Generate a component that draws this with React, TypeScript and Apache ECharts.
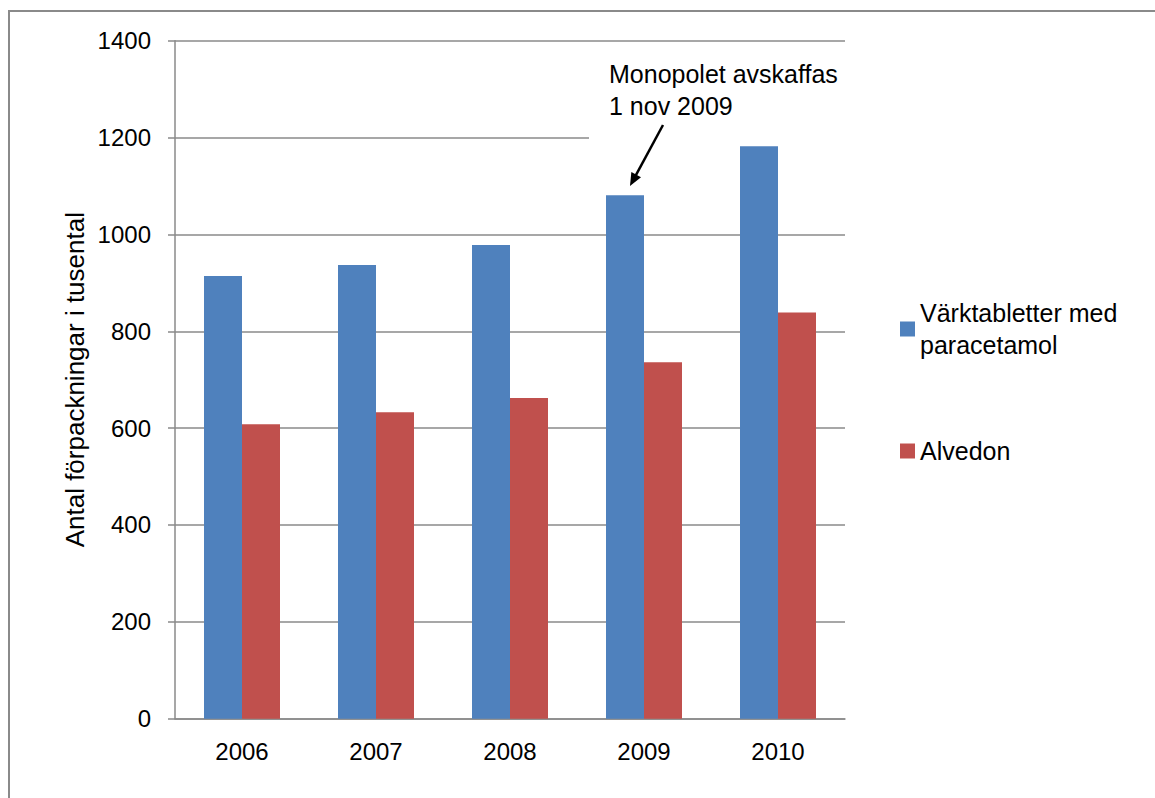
import React, { useEffect, useRef } from "react";
import * as echarts from "echarts";

const years = ["2006", "2007", "2008", "2009", "2010"];
const seriesNames = ["Värktabletter med paracetamol", "Alvedon"];
const paracetamolValues = [914, 937, 978, 1081, 1182];
const alvedonValues = [608, 633, 662, 736, 839];
const yMin = 0;
const yMax = 1400;
const yInterval = 200;
const yAxisTitle = "Antal förpackningar i tusental";
const annotationLines = ["Monopolet avskaffas", "1 nov 2009"];

const FONT = "'Liberation Sans', Arial, sans-serif";
const GRID_COLOR = "#8a8a8a";

export default function App() {
  const ref = useRef<HTMLDivElement>(null);

  useEffect(() => {
    if (!ref.current) return;
    const chart = echarts.init(ref.current, undefined, { renderer: "svg" });

    // arrow geometry
    const tail = [663, 125];
    const tip = [630, 186];
    const dx = tip[0] - tail[0];
    const dy = tip[1] - tail[1];
    const len = Math.sqrt(dx * dx + dy * dy);
    const ux = dx / len;
    const uy = dy / len;
    const nx = -uy;
    const ny = ux;
    const headLen = 13;
    const headHalf = 5.5;
    const bx = tip[0] - ux * headLen;
    const by = tip[1] - uy * headLen;

    chart.setOption({
      animation: false,
      backgroundColor: "#ffffff",
      textStyle: { fontFamily: FONT },
      grid: { left: 175, right: 310, top: 40.7, bottom: 79.3, containLabel: false },
      legend: {
        orient: "vertical",
        left: 900,
        top: 281,
        padding: 0,
        itemWidth: 15,
        itemHeight: 15,
        itemGap: 58,
        icon: "rect",
        selectedMode: false,
        formatter: (name: string) =>
          name === seriesNames[0] ? "Värktabletter med\nparacetamol" : name,
        textStyle: { fontFamily: FONT, fontSize: 25, color: "#000", lineHeight: 32 },
        data: [
          { name: seriesNames[0], textStyle: { padding: [32, 0, 0, 0] } },
          { name: seriesNames[1] },
        ],
      },
      xAxis: {
        type: "category",
        data: years,
        axisLine: { show: true, lineStyle: { color: GRID_COLOR, width: 1.5 } },
        axisTick: { show: false },
        axisLabel: { color: "#000", fontSize: 24, fontFamily: FONT, margin: 21 },
      },
      yAxis: {
        type: "value",
        min: yMin,
        max: yMax,
        interval: yInterval,
        name: yAxisTitle,
        nameLocation: "middle",
        nameGap: 87,
        nameMoveOverlap: false,
        nameTextStyle: { color: "#000", fontSize: 26, fontFamily: FONT },
        axisLine: { show: true, lineStyle: { color: GRID_COLOR, width: 1.5 } },
        axisTick: { show: true, length: 7, lineStyle: { color: GRID_COLOR, width: 1.5 } },
        axisLabel: {
          color: "#000",
          fontSize: 24,
          fontFamily: FONT,
          margin: 24,
          formatter: (v: number) => String(v),
        },
        splitLine: { show: true, lineStyle: { color: GRID_COLOR, width: 1.5 } },
      },
      series: [
        {
          name: seriesNames[0],
          type: "bar",
          data: paracetamolValues,
          barWidth: 38,
          barGap: "0%",
          itemStyle: { color: "#4F81BD" },
        },
        {
          name: seriesNames[1],
          type: "bar",
          data: alvedonValues,
          barWidth: 38,
          barGap: "0%",
          itemStyle: { color: "#C0504D" },
        },
      ],
      graphic: [
        {
          type: "rect",
          z: 100,
          silent: true,
          shape: { x: 9, y: 11, width: 1300, height: 1000 },
          style: { fill: "none", stroke: GRID_COLOR, lineWidth: 2 },
        },
        {
          type: "rect",
          z: 100,
          silent: true,
          shape: { x: 589, y: 52, width: 262, height: 88 },
          style: { fill: "#ffffff" },
        },
        {
          type: "text",
          z: 101,
          x: 609,
          y: 58,
          style: {
            text: annotationLines.join("\n"),
            fontFamily: FONT,
            fontSize: 25,
            lineHeight: 32,
            fill: "#000",
            verticalAlign: "top",
            align: "left",
          },
        },
        {
          type: "line",
          z: 101,
          shape: { x1: tail[0], y1: tail[1], x2: bx + ux * 2, y2: by + uy * 2 },
          style: { stroke: "#000", lineWidth: 2.5 },
        },
        {
          type: "polygon",
          z: 101,
          shape: {
            points: [
              [tip[0], tip[1]],
              [bx + nx * headHalf, by + ny * headHalf],
              [bx - nx * headHalf, by - ny * headHalf],
            ],
          },
          style: { fill: "#000" },
        },
      ],
    });

    return () => chart.dispose();
  }, []);

  return (
    <div
      ref={ref}
      style={{ position: "absolute", left: 0, top: 0, width: 1155, height: 798 }}
    />
  );
}
